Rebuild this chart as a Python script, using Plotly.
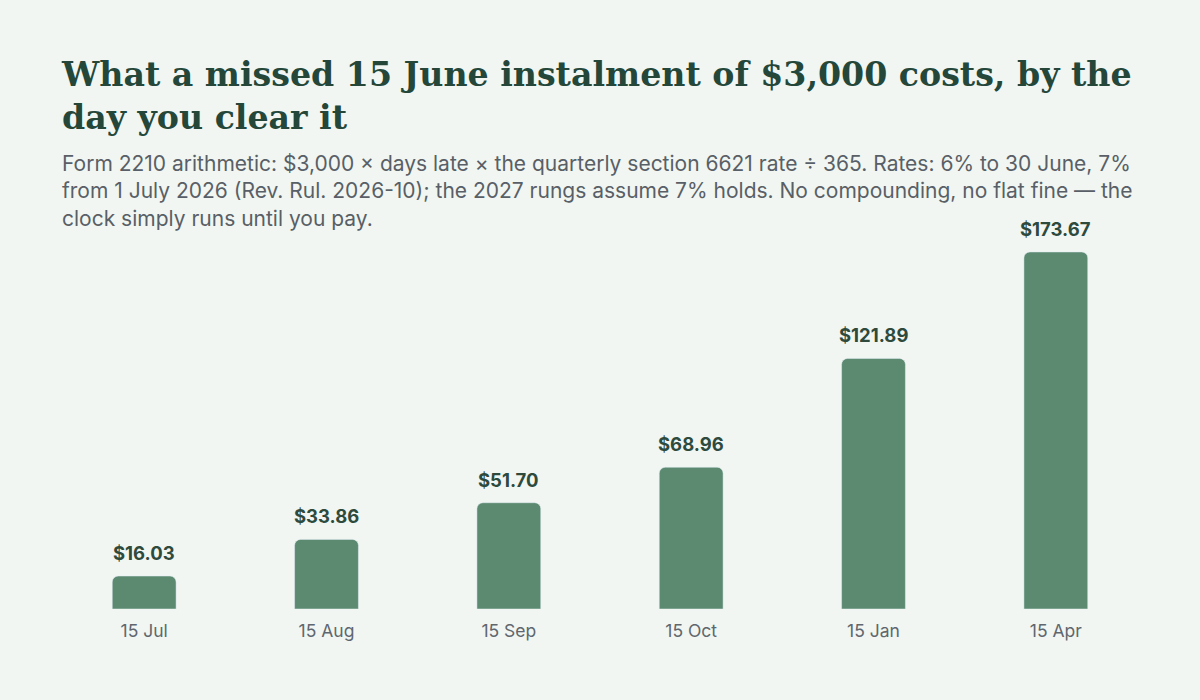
import plotly.graph_objects as go

# payment dates and the interest owed on the missed $3,000 instalment
pay_dates = ["15 Jul", "15 Aug", "15 Sep", "15 Oct", "15 Jan", "15 Apr"]
penalty = [16.03, 33.86, 51.70, 68.96, 121.89, 173.67]
value_labels = ["$16.03", "$33.86", "$51.70", "$68.96", "$121.89", "$173.67"]

titulo = "What a missed 15 June instalment of $3,000 costs, by the<br>day you clear it"
subtitulo = ("Form 2210 arithmetic: $3,000 × days late × the quarterly section 6621 rate ÷ 365. Rates: 6% to 30 June, 7%<br>"
             "from 1 July 2026 (Rev. Rul. 2026-10); the 2027 rungs assume 7% holds. No compounding, no flat fine — the<br>"
             "clock simply runs until you pay.")

fundo = "#f1f6f2"
verde = "#5b8a70"
escuro = "#24473a"

fig = go.Figure()
fig.add_trace(go.Bar(
    x=pay_dates, y=penalty,
    marker=dict(color=verde, cornerradius=6),
    hoverinfo="skip",
))

for d, v, lab in zip(pay_dates, penalty, value_labels):
    fig.add_annotation(
        x=d, y=v, text=f"<b>{lab}</b>", showarrow=False,
        yanchor="bottom", yshift=10,
        font=dict(family="Inter", size=18.5, color="#2e4a3d"),
    )

fig.add_annotation(
    xref="paper", yref="paper", x=(60 - 53) / 1094, y=1 + (240 - 149) / 369,
    xanchor="left", yanchor="top", align="left", showarrow=False,
    text=subtitulo,
    font=dict(family="Inter", size=21, color="#595f66"),
)

fig.update_layout(
    width=1200, height=700,
    paper_bgcolor=fundo, plot_bgcolor=fundo,
    margin=dict(l=53, r=53, t=240, b=91),
    bargap=0.65,
    showlegend=False,
    title=dict(
        text=f"<b>{titulo}</b>",
        xref="container", yref="container",
        x=62 / 1200, y=1 - 86 / 700, xanchor="left", yanchor="top",
        font=dict(family="DejaVu Serif", size=33.2, color=escuro),
    ),
    xaxis=dict(
        showgrid=False, showline=False, zeroline=False, ticks="",
        tickfont=dict(family="Inter", size=17.5, color="#60666e"),
        ticklabelstandoff=9,
    ),
    yaxis=dict(
        range=[0, 179.5], visible=False,
    ),
)

fig.write_html(
    "out.html",
    config={"displayModeBar": False},
    post_script="document.body.style.margin='0';document.body.style.background='" + fundo + "';",
)
